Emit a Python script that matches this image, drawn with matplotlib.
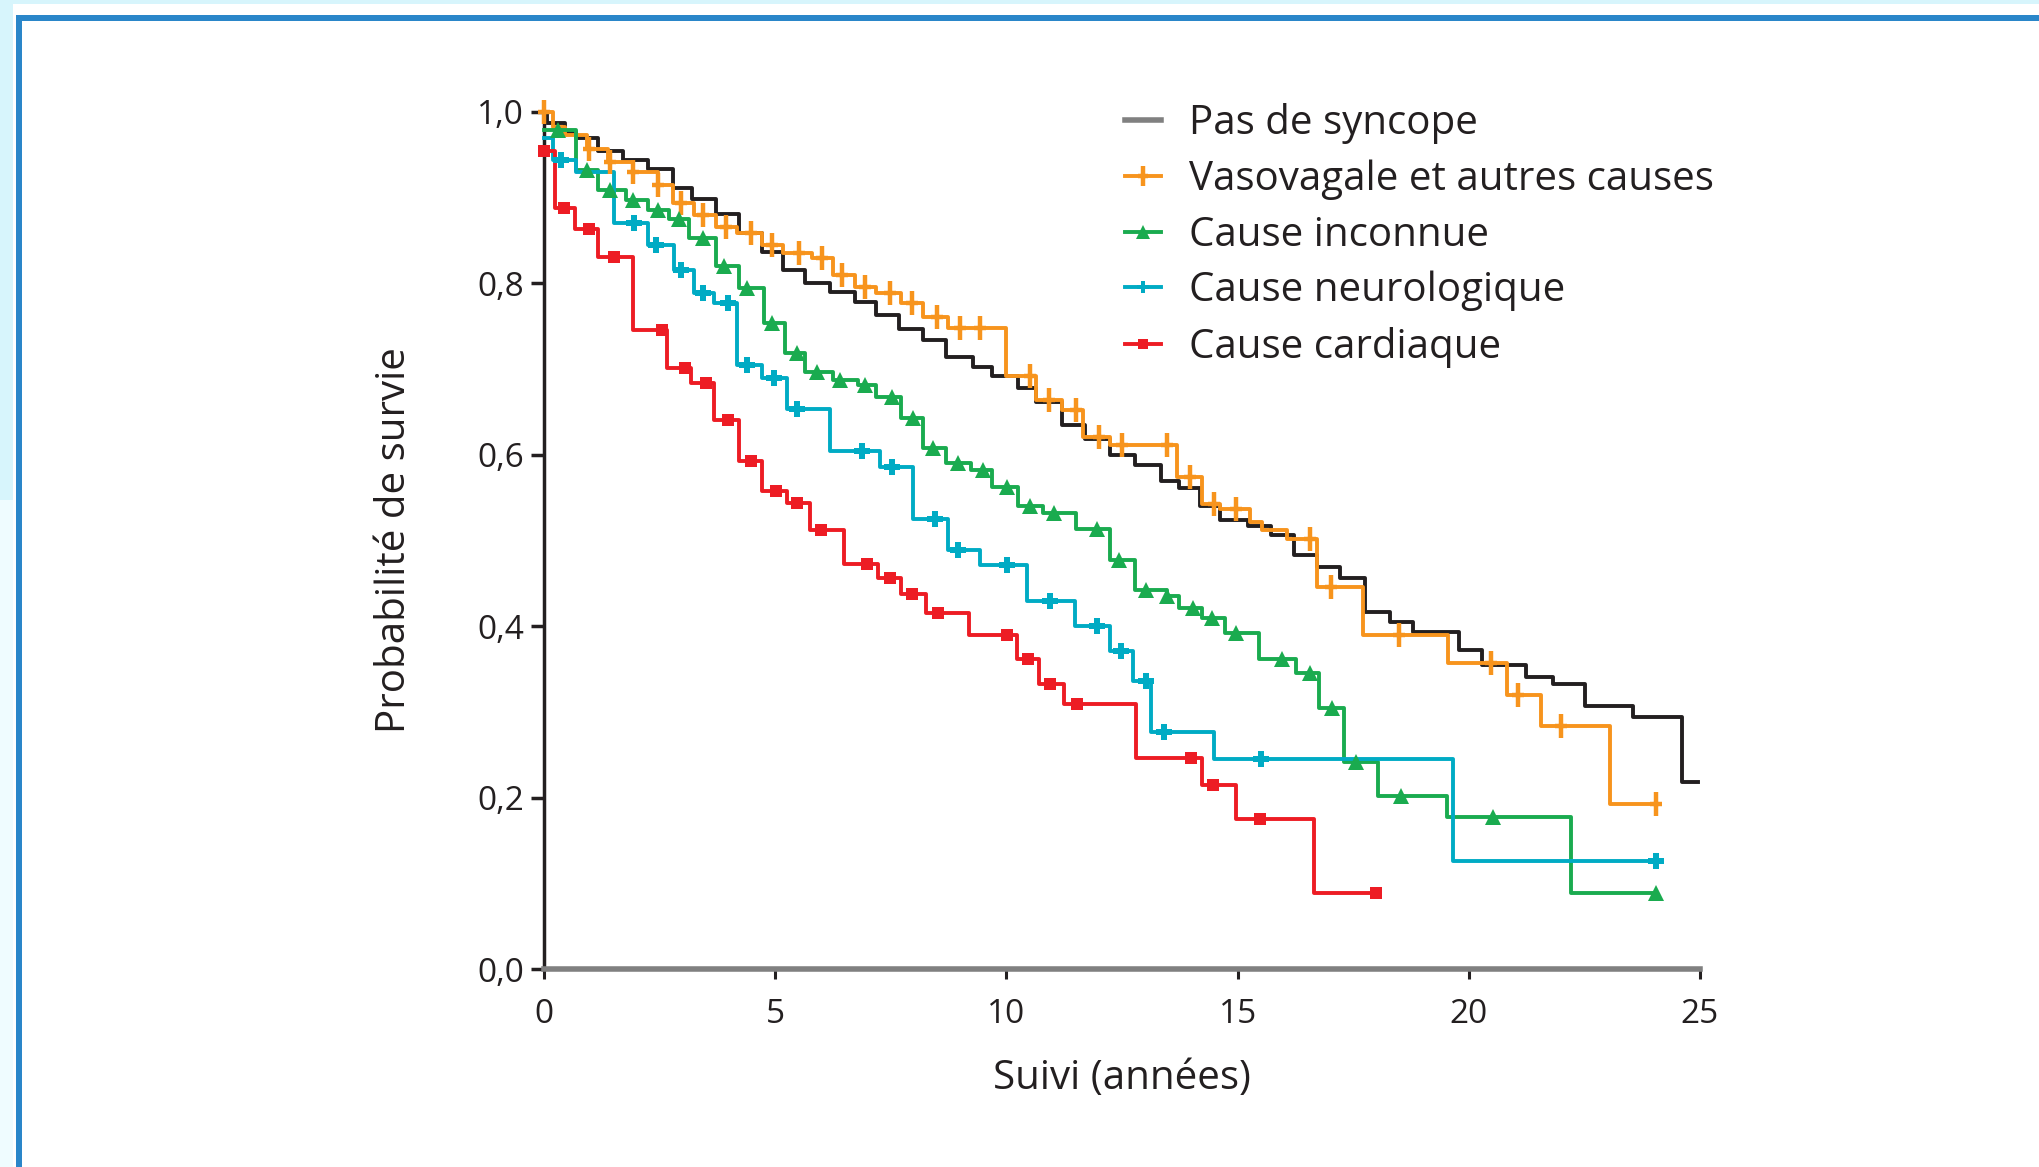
import numpy as np
import matplotlib.pyplot as plt
from matplotlib.lines import Line2D
from matplotlib.patches import Rectangle
from matplotlib.path import Path

plt.rcParams['font.family'] = ['Open Sans', 'DejaVu Sans']

W, H = 2040, 1167

# Courbes de Kaplan-Meier : debut de chaque palier (annees) et survie
noir_t = [0, 0.07, 0.46, 0.69, 1.16, 1.70, 2.24, 2.78, 3.20, 3.71, 4.21, 4.71, 5.17, 5.64,
          6.18, 6.72, 7.18, 7.68, 8.19, 8.69, 9.27, 9.69, 10.25, 10.65, 11.2, 11.7, 12.24,
          12.79, 13.34, 13.73, 14.18, 14.63, 15.22, 15.72, 16.22, 16.71, 17.21, 17.75, 18.3,
          18.8, 19.79, 20.29, 21.23, 21.83, 22.51, 23.56, 24.6]
noir_s = [1.0, 0.987, 0.977, 0.970, 0.954, 0.944, 0.933, 0.911, 0.898, 0.881, 0.859, 0.837,
          0.816, 0.800, 0.790, 0.778, 0.763, 0.747, 0.734, 0.714, 0.702, 0.692, 0.678, 0.662,
          0.635, 0.619, 0.600, 0.588, 0.570, 0.561, 0.540, 0.524, 0.517, 0.507, 0.483, 0.469,
          0.456, 0.416, 0.405, 0.393, 0.372, 0.355, 0.341, 0.333, 0.307, 0.294, 0.218]
noir_fin = 24.95

orange_t = [0, 0.2, 0.46, 0.93, 1.39, 1.93, 2.47, 2.78, 3.24, 3.71, 4.17, 4.71, 5.17, 5.79,
            6.25, 6.72, 7.18, 7.72, 8.19, 8.73, 9.99, 10.65, 11.2, 11.65, 12.24, 13.68, 14.23,
            14.63, 15.27, 15.52, 16.07, 16.71, 17.71, 19.54, 20.83, 21.57, 23.06]
orange_s = [1.0, 0.983, 0.973, 0.957, 0.942, 0.930, 0.915, 0.894, 0.880, 0.866, 0.859, 0.845,
            0.835, 0.830, 0.810, 0.796, 0.789, 0.777, 0.761, 0.748, 0.692, 0.664, 0.652, 0.621,
            0.611, 0.574, 0.543, 0.537, 0.522, 0.512, 0.502, 0.446, 0.390, 0.357, 0.320, 0.284,
            0.192]
orange_fin = 24.05
orange_cens = [0, 0.97, 1.43, 1.93, 2.47, 2.97, 3.44, 3.94, 4.48, 4.94, 5.52, 6.02, 6.45, 6.95,
               7.49, 7.95, 8.49, 9.0, 9.42, 10.5, 10.93, 11.5, 12.0, 12.49, 13.48, 13.98, 14.48,
               14.97, 16.56, 17.01, 18.5, 20.49, 21.06, 21.99, 24.05]

vert_t = [0, 0.69, 1.16, 1.78, 2.24, 2.70, 3.13, 3.71, 4.21, 4.75, 5.21, 5.64, 6.25, 6.80,
          7.18, 7.72, 8.19, 8.69, 9.23, 9.69, 10.26, 10.80, 11.5, 12.24, 12.79, 13.48, 13.73,
          14.23, 14.73, 15.47, 16.27, 16.76, 17.30, 18.04, 19.53, 22.21]
vert_s = [0.979, 0.932, 0.909, 0.897, 0.886, 0.875, 0.853, 0.820, 0.795, 0.754, 0.719, 0.697,
          0.687, 0.681, 0.667, 0.643, 0.608, 0.590, 0.582, 0.562, 0.540, 0.532, 0.514, 0.477,
          0.442, 0.435, 0.421, 0.409, 0.392, 0.362, 0.345, 0.304, 0.242, 0.202, 0.177, 0.089]
vert_fin = 24.05
vert_cens = [0.31, 0.93, 1.43, 1.93, 2.47, 2.93, 3.44, 3.90, 4.40, 4.94, 5.48, 5.91, 6.41, 6.95,
             7.53, 7.99, 8.42, 8.96, 9.50, 10.01, 10.51, 11.03, 11.95, 12.44, 13.02, 13.48,
             14.03, 14.45, 14.97, 15.97, 16.56, 17.05, 17.55, 18.54, 20.53, 24.05]

cyan_t = [0, 0.19, 0.69, 1.51, 2.24, 2.82, 3.24, 3.67, 4.17, 4.71, 5.25, 6.18, 7.26, 7.99,
          8.73, 9.42, 10.44, 11.49, 12.23, 12.73, 13.13, 14.5, 19.66]
cyan_s = [0.970, 0.944, 0.930, 0.870, 0.845, 0.816, 0.789, 0.777, 0.705, 0.690, 0.654, 0.604,
          0.586, 0.525, 0.489, 0.471, 0.429, 0.400, 0.371, 0.336, 0.277, 0.245, 0.126]
cyan_fin = 24.05
cyan_cens = [0.37, 1.95, 2.43, 2.97, 3.44, 3.98, 4.40, 4.98, 5.48, 6.87, 7.53, 8.46, 8.96,
             10.02, 10.95, 11.96, 12.48, 13.01, 13.40, 15.51, 24.05]

rouge_t = [0, 0.23, 0.66, 1.16, 1.93, 2.66, 3.17, 3.67, 4.21, 4.71, 5.25, 5.75, 6.49, 7.22,
           7.72, 8.26, 9.19, 10.24, 10.70, 11.24, 12.81, 14.22, 14.97, 16.65]
rouge_s = [0.955, 0.888, 0.863, 0.831, 0.746, 0.701, 0.684, 0.641, 0.593, 0.558, 0.544, 0.512,
           0.472, 0.456, 0.438, 0.415, 0.390, 0.362, 0.333, 0.309, 0.246, 0.215, 0.175, 0.089]
rouge_fin = 17.99
rouge_cens = [0, 0.44, 0.97, 1.51, 2.55, 3.05, 3.51, 3.98, 4.48, 5.02, 5.47, 5.98, 6.99, 7.49,
              7.95, 8.53, 10.02, 10.47, 10.94, 11.52, 14.0, 14.47, 15.48, 17.99]

labels = ['Pas de syncope', 'Vasovagale et autres causes', 'Cause inconnue',
          'Cause neurologique', 'Cause cardiaque']
x_ticks = [0, 5, 10, 15, 20, 25]
y_ticks = [0.0, 0.2, 0.4, 0.6, 0.8, 1.0]

# croix verticale (plus haute que large) pour la courbe orange
croix = Path([(0, -1), (0, 1), (-0.5, 0), (0.5, 0)],
             [Path.MOVETO, Path.LINETO, Path.MOVETO, Path.LINETO])

series = [
    (noir_t, noir_s, noir_fin, [], '#231f20', None, 0),
    (orange_t, orange_s, orange_fin, orange_cens, '#f7941d', croix, 17),
    (vert_t, vert_s, vert_fin, vert_cens, '#1aab4f', '^', 12),
    (cyan_t, cyan_s, cyan_fin, cyan_cens, '#00abc4', 'P', 11),
    (rouge_t, rouge_s, rouge_fin, rouge_cens, '#ed1c24', 's', 9),
]

fig = plt.figure(figsize=(W / 100, H / 100), dpi=100)


def px(x0, y0, w, h):
    return (x0 / W, 1 - (y0 + h) / H, w / W, h / H)


# cadre de la page
for (x0, y0, w, h), c in [((0, 0, 13, 500), '#d7f5fc'), ((0, 500, 13, 667), '#effcff'),
                          ((0, 0, W, 4), '#d7f5fc'),
                          ((16, 15, W, 6), '#2a86c9'), ((16, 15, 6, H), '#2a86c9')]:
    l, b, ww, hh = px(x0, y0, w, h)
    fig.patches.append(Rectangle((l, b), ww, hh, transform=fig.transFigure,
                                 color=c, lw=0, zorder=0))

ax = fig.add_axes(px(544, 112, 1156, 857))

handles = []
for t, s, fin, cens, col, mk, ms in series:
    tt = np.array(t + [fin])
    ss = np.array(s + [s[-1]])
    ax.step(tt, ss, where='post', color=col, lw=2.8, clip_on=False, zorder=3)
    if cens:
        c = np.array(cens)
        cy = np.array(s)[np.searchsorted(t, c, side='right') - 1]
        if mk is croix:
            ax.plot(c, cy, ls='none', marker=mk, ms=ms, mfc='none', mec=col, mew=3.2,
                    clip_on=False, zorder=4)
        else:
            ax.plot(c, cy, ls='none', marker=mk, ms=ms, color=col, mew=0,
                    clip_on=False, zorder=4)
    if mk is None:
        handles.append(Line2D([], [], color='#808080', lw=4))
    elif mk is croix:
        handles.append(Line2D([], [], color=col, lw=2.8, marker=mk, ms=ms * 0.85,
                              mfc='none', mec=col, mew=3.2))
    else:
        handles.append(Line2D([], [], color=col, lw=2.8, marker=mk, ms=ms * 0.85, mew=0))

ax.set_xlim(0, 25)
ax.set_ylim(0, 1)
ax.set_xticks(x_ticks)
ax.set_xticklabels([str(v) for v in x_ticks])
ax.set_yticks(y_ticks)
ax.set_yticklabels([f'{v:.1f}'.replace('.', ',') for v in y_ticks])

for side in ['top', 'right']:
    ax.spines[side].set_visible(False)
ax.spines['left'].set_color('#231f20')
ax.spines['left'].set_linewidth(2.5)
ax.spines['bottom'].set_color('#808080')
ax.spines['bottom'].set_linewidth(4)
ax.tick_params(axis='x', length=7, width=2.2, color='#231f20', labelsize=24, pad=14,
               labelcolor='#231f20')
ax.tick_params(axis='y', length=9.5, width=2.5, color='#231f20', labelsize=24, pad=5,
               labelcolor='#231f20')

ax.set_xlabel('Suivi (années)', fontsize=29, color='#231f20')
ax.set_ylabel('Probabilité de survie', fontsize=29, color='#231f20')
ax.xaxis.set_label_coords(0.5, -0.105)
ax.yaxis.set_label_coords(-0.112, 0.5)

fig.legend(handles, labels, loc='upper left', bbox_to_anchor=(1125 / W, 1 - 103 / H),
           frameon=False, fontsize=29, handlelength=0.9, handletextpad=0.68,
           labelspacing=0.38, borderpad=0, borderaxespad=0, labelcolor='#231f20')

fig.savefig('out.png', dpi=100)
